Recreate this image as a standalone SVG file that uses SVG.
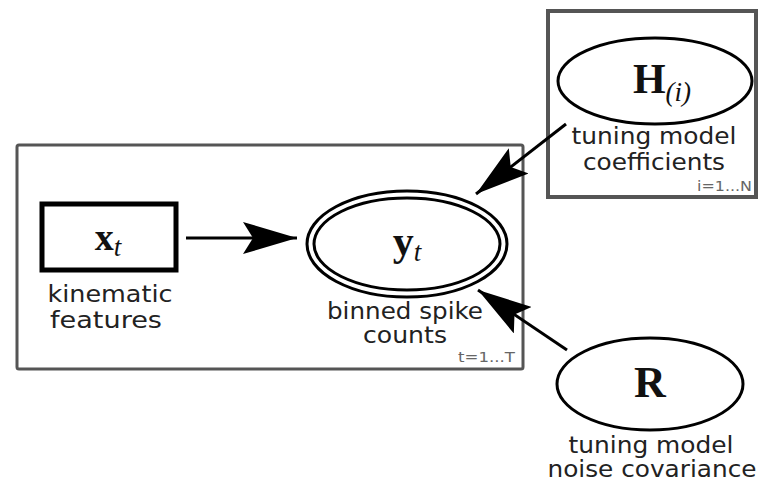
<svg xmlns="http://www.w3.org/2000/svg" width="760" height="483" viewBox="0 0 760 483">
  <style>
    .lbl { font-family: "DejaVu Sans", sans-serif; font-size: 23px; fill: #222; text-anchor: middle; }
    .idx { font-family: "DejaVu Sans", sans-serif; font-size: 14px; fill: #666; text-anchor: end; }
    .math { font-family: "Liberation Serif", "DejaVu Serif", serif; font-weight: bold; fill: #111; }
    .sub { font-family: "Liberation Serif", "DejaVu Serif", serif; font-style: italic; fill: #111; }
    .plate { fill: none; stroke: #555; }
    .node { fill: #fff; stroke: #000; }
    .edge { stroke: #000; stroke-width: 3; fill: none; }
  </style>
  <defs>
    <marker id="head" markerUnits="userSpaceOnUse" markerWidth="56" markerHeight="32" refX="54" refY="16" orient="auto">
      <path d="M0,0 L54,16 L0,32 L10,16 Z" fill="#000"/>
    </marker>
  </defs>
  <rect width="760" height="483" fill="#fff"/>

  <!-- plate t -->
  <g id="plate-t">
    <rect class="plate" x="17" y="145" width="506" height="224" rx="2" stroke-width="3"/>
    <text class="idx" x="515" y="362" textLength="57" lengthAdjust="spacingAndGlyphs">t=1...T</text>
  </g>

  <!-- plate i -->
  <g id="plate-i">
    <rect class="plate" x="548" y="11" width="208" height="186" stroke="#444" stroke-width="4"/>
    <text class="idx" x="752" y="191" textLength="55" lengthAdjust="spacingAndGlyphs">i=1...N</text>
  </g>

  <!-- connectors -->
  <g id="edges">
    <line class="edge" x1="186" y1="238" x2="297" y2="238" marker-end="url(#head)"/>
    <line class="edge" x1="566" y1="124" x2="476" y2="194" marker-end="url(#head)"/>
    <line class="edge" x1="567" y1="350" x2="478" y2="290" marker-end="url(#head)"/>
  </g>

  <g id="node-x">
    <rect class="node" x="42" y="204" width="134" height="66" stroke-width="5"/>
    <text class="math" x="108" y="250" font-size="38" text-anchor="middle">x<tspan class="sub" font-size="27" font-weight="normal" dy="6">t</tspan></text>
    <text class="lbl" x="110" y="302" textLength="125" lengthAdjust="spacingAndGlyphs">kinematic</text>
    <text class="lbl" x="106" y="328" textLength="112" lengthAdjust="spacingAndGlyphs">features</text>
  </g>

  <g id="node-y">
    <ellipse class="node" cx="407" cy="244" rx="100" ry="53" stroke-width="3"/>
    <ellipse cx="407" cy="244" rx="93" ry="46" fill="none" stroke="#000" stroke-width="3"/>
    <text class="math" x="407" y="255" font-size="42" text-anchor="middle">y<tspan class="sub" font-size="27" font-weight="normal" dy="6">t</tspan></text>
    <text class="lbl" x="405" y="319" textLength="156" lengthAdjust="spacingAndGlyphs">binned spike</text>
    <text class="lbl" x="405" y="343" textLength="84" lengthAdjust="spacingAndGlyphs">counts</text>
  </g>

  <g id="node-h">
    <ellipse class="node" cx="655" cy="81" rx="97" ry="43" stroke-width="3"/>
    <text class="math" x="662" y="93" font-size="42" text-anchor="middle">H<tspan class="sub" font-size="27" font-weight="normal" dy="8">(i)</tspan></text>
    <text class="lbl" x="654" y="144" textLength="165" lengthAdjust="spacingAndGlyphs">tuning model</text>
    <text class="lbl" x="654" y="170" textLength="142" lengthAdjust="spacingAndGlyphs">coefficients</text>
  </g>

  <g id="node-r">
    <ellipse class="node" cx="650" cy="384" rx="93" ry="46" stroke-width="3"/>
    <text class="math" x="650" y="397" font-size="44" text-anchor="middle">R</text>
    <text class="lbl" x="651" y="453" textLength="165" lengthAdjust="spacingAndGlyphs">tuning model</text>
    <text class="lbl" x="652" y="477" textLength="209" lengthAdjust="spacingAndGlyphs">noise covariance</text>
  </g>
</svg>
